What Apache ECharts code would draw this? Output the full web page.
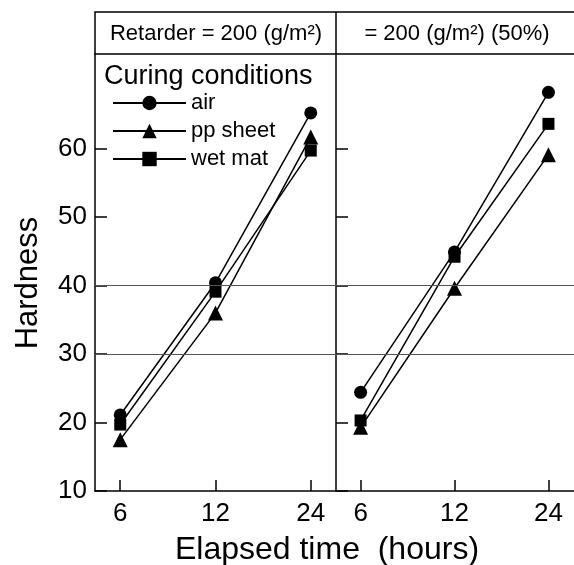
<!DOCTYPE html>
<html>
<head>
<meta charset="utf-8">
<script src="https://cdn.jsdelivr.net/npm/echarts@6/dist/echarts.min.js"></script>
<style>html,body{margin:0;padding:0;background:#fff;}#c{width:574px;height:565px;}</style>
</head>
<body>
<div id="c"></div>
<script>
const categories = ['6', '12', '24'];
const yTicks = [10, 20, 30, 40, 50, 60];
const refLines = [30, 40];
const seriesNames = ['air', 'pp sheet', 'wet mat'];
const panelTitles = ['Retarder = 200 (g/m²)', '= 200 (g/m²) (50%)'];
const airLeft = [21.1, 40.4, 65.2];
const ppLeft = [17.5, 36.0, 61.7];
const wetLeft = [19.7, 39.1, 59.7];
const airRight = [24.4, 44.9, 68.2];
const ppRight = [19.3, 39.6, 59.1];
const wetRight = [20.3, 44.2, 63.6];

const FONT = '"Liberation Sans", Arial, sans-serif';
const symbols = ['circle', 'triangle', 'rect'];
const sizes = [13, 15, 12];
const panels = [[airLeft, ppLeft, wetLeft], [airRight, ppRight, wetRight]];
const idx = categories.map((c, i) => i);

function xAxis(gi, min, max) {
  return {
    type: 'value', gridIndex: gi, min: min, max: max,
    axisLine: {show: true, onZero: false, lineStyle: {color: '#000', width: 1.5}},
    axisTick: {show: true, inside: true, length: 11, customValues: idx, lineStyle: {color: '#000', width: 1.5}},
    axisLabel: {show: true, customValues: idx, formatter: v => categories[Math.round(v)], color: '#000', fontSize: 26, fontFamily: FONT, margin: 10},
    splitLine: {show: false}
  };
}
function yAxis(gi, showLabel) {
  return {
    type: 'value', gridIndex: gi, min: 10, max: 73.8,
    axisLine: {show: true, onZero: false, lineStyle: {color: '#000', width: 1.5}},
    axisTick: {show: true, inside: true, length: 12, customValues: yTicks, lineStyle: {color: '#000', width: 1.5}},
    axisLabel: {show: showLabel, customValues: yTicks, color: '#000', fontSize: 26, fontFamily: FONT, margin: 8},
    splitLine: {show: false}
  };
}

const series = [];
panels.forEach((p, gi) => {
  p.forEach((vals, si) => {
    const s = {
      name: seriesNames[si], type: 'line', xAxisIndex: gi, yAxisIndex: gi,
      data: vals.map((v, i) => [idx[i], v]),
      symbol: symbols[si], symbolSize: sizes[si],
      lineStyle: {color: '#000', width: 1.5},
      itemStyle: {color: '#000'},
      animation: false
    };
    if (si === 0) {
      s.markLine = {
        silent: true, symbol: 'none', label: {show: false},
        lineStyle: {color: '#555', type: 'solid', width: 1},
        data: refLines.map(v => ({yAxis: v})),
        animation: false
      };
    }
    series.push(s);
  });
});

const chart = echarts.init(document.getElementById('c'));
chart.setOption({
  animation: false,
  backgroundColor: '#fff',
  grid: [
    {left: 95, top: 54, width: 241, height: 437},
    {left: 336, top: 54, width: 242, height: 437}
  ],
  xAxis: [xAxis(0, -0.265, 2.265), xAxis(1, -0.262, 2.272)],
  yAxis: [yAxis(0, true), yAxis(1, false)],
  legend: {
    data: seriesNames, orient: 'vertical', left: 107, top: 87,
    itemWidth: 73, itemHeight: 18, itemGap: 6,
    textStyle: {fontSize: 22, fontFamily: FONT, color: '#000'},
    selectedMode: false
  },
  graphic: [
    {type: 'rect', shape: {x: 95, y: 12, width: 490, height: 42}, style: {fill: 'none', stroke: '#000', lineWidth: 1.5}},
    {type: 'line', shape: {x1: 336, y1: 12, x2: 336, y2: 54}, style: {stroke: '#000', lineWidth: 1.5}},
    {type: 'text', x: 216, y: 34, style: {text: panelTitles[0], fontSize: 22, fontFamily: FONT, fill: '#000', textAlign: 'center', textVerticalAlign: 'middle'}},
    {type: 'text', x: 457, y: 34, style: {text: panelTitles[1], fontSize: 22, fontFamily: FONT, fill: '#000', textAlign: 'center', textVerticalAlign: 'middle'}},
    {type: 'text', x: 104, y: 77, style: {text: 'Curing conditions', fontSize: 27, fontFamily: FONT, fill: '#000', textAlign: 'left', textVerticalAlign: 'middle'}},
    {type: 'text', x: 28, y: 283, rotation: Math.PI / 2, style: {text: 'Hardness', fontSize: 31, fontFamily: FONT, fill: '#000', textAlign: 'center', textVerticalAlign: 'middle'}},
    {type: 'text', x: 327, y: 550, style: {text: 'Elapsed time  (hours)', fontSize: 32, fontFamily: FONT, fill: '#000', textAlign: 'center', textVerticalAlign: 'middle'}}
  ],
  series: series
});
</script>
</body>
</html>
